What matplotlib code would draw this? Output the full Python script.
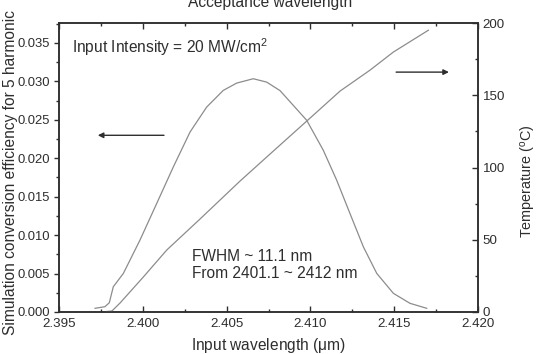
import matplotlib

matplotlib.use("Agg")
import matplotlib.pyplot as plt
from matplotlib.ticker import FormatStrFormatter, MultipleLocator

plt.rcParams["font.family"] = ["Liberation Sans", "DejaVu Sans"]
plt.rcParams["mathtext.fontset"] = "custom"
plt.rcParams["mathtext.rm"] = "Liberation Sans"
plt.rcParams["mathtext.it"] = "Liberation Sans"

# conversion efficiency (left axis)
eff_wl = [2.39715, 2.39774, 2.39800, 2.39824, 2.39884, 2.39983, 2.40083, 2.40182,
          2.40282, 2.40381, 2.40480, 2.40560, 2.40659, 2.40739, 2.40819, 2.40978,
          2.41077, 2.41157, 2.41236, 2.41316, 2.41396, 2.41495, 2.41594, 2.41694]
eff_val = [0.00048, 0.00069, 0.00120, 0.00329, 0.00502, 0.00935, 0.01412, 0.01887,
           0.02342, 0.02666, 0.02883, 0.02978, 0.03035, 0.02991, 0.02880, 0.02494,
           0.02104, 0.01714, 0.01282, 0.00848, 0.00502, 0.00243, 0.00113, 0.00048]

# phase-matching temperature (right axis)
temp_wl = [2.39785, 2.39816, 2.39864, 2.40003, 2.40143, 2.40341, 2.40580, 2.40759,
           2.40978, 2.41177, 2.41356, 2.41495, 2.41704]
temp_val = [0.35, 0.7, 6.2, 24.2, 42.9, 64.3, 90.6, 109.3, 132.1, 152.9, 167.4,
            179.9, 195.0]

ink = "#2e2e2e"
curve = "#8c8c8c"
fs = 11.2

fig = plt.figure(figsize=(5.37, 3.54), dpi=100)
ax = fig.add_axes([59 / 537, 1 - 312 / 354, (478 - 59) / 537, (312 - 23) / 354])
ax2 = ax.twinx()

ax.plot(eff_wl, eff_val, color=curve, lw=0.9)
ax2.plot(temp_wl, temp_val, color=curve, lw=0.9)

ax.set_xlim(2.395, 2.420)
ax.set_ylim(0, 0.0376)
ax2.set_ylim(0, 200)

ax.xaxis.set_major_locator(MultipleLocator(0.005))
ax.xaxis.set_minor_locator(MultipleLocator(0.0025))
ax.yaxis.set_major_locator(MultipleLocator(0.005))
ax.yaxis.set_minor_locator(MultipleLocator(0.0025))
ax2.yaxis.set_major_locator(MultipleLocator(50))
ax2.yaxis.set_minor_locator(MultipleLocator(25))
ax.xaxis.set_major_formatter(FormatStrFormatter("%.3f"))
ax.yaxis.set_major_formatter(FormatStrFormatter("%.3f"))

ax.tick_params(axis="x", which="both", direction="in", top=True, colors=ink,
               labelsize=9.6, pad=4)
ax.tick_params(axis="x", which="major", length=4.5, width=1)
ax.tick_params(axis="x", which="minor", length=2.5, width=1)
ax.tick_params(axis="y", which="both", direction="out", colors=ink,
               labelsize=9.4, pad=3)
ax.tick_params(axis="y", which="major", length=3.5, width=1)
ax.tick_params(axis="y", which="minor", length=2.5, width=1)
ax2.tick_params(axis="y", which="both", direction="in", colors=ink, labelsize=9.6)
ax2.tick_params(axis="y", which="major", length=4.5, width=1)
ax2.tick_params(axis="y", which="minor", length=2.5, width=1)

for a in (ax, ax2):
    for s in a.spines.values():
        s.set_color(ink)
        s.set_linewidth(1.1)

ax.set_xlabel("Input wavelength ($\\mu$m)", fontsize=fs, color=ink)
ax.xaxis.set_label_coords(0.5, -0.082)
ax.set_ylabel("Simulation conversion efficiency for 5 harmonic", fontsize=fs,
              color=ink)
ax.yaxis.set_label_coords(-0.098, 0.484)
ax2.set_ylabel("Temperature ($^{o}$C)", fontsize=fs - 0.8, color=ink)
ax2.yaxis.set_label_coords(1.098, 0.453)
fig.text(270 / 537, 1 - 7 / 354, "Acceptance wavelength", ha="center",
         va="baseline", fontsize=fs, color=ink)

ax.text(2.3958, 0.0345, "Input Intensity = 20 MW/cm$^2$", fontsize=fs,
        color=ink, va="center")
ax.text(2.40295, 0.0061, "FWHM ~ 11.1 nm\nFrom 2401.1 ~ 2412 nm", fontsize=fs,
        color=ink, va="center", linespacing=1.2)

ax.annotate("", xy=(2.39715, 0.02299), xytext=(2.40143, 0.02299),
            arrowprops=dict(arrowstyle="-|>", color=ink, lw=1.0,
                            mutation_scale=8))
ax.annotate("", xy=(2.41843, 0.03121), xytext=(2.41495, 0.03121),
            arrowprops=dict(arrowstyle="-|>", color=ink, lw=1.0,
                            mutation_scale=8))

fig.savefig("out.png", dpi=100)
